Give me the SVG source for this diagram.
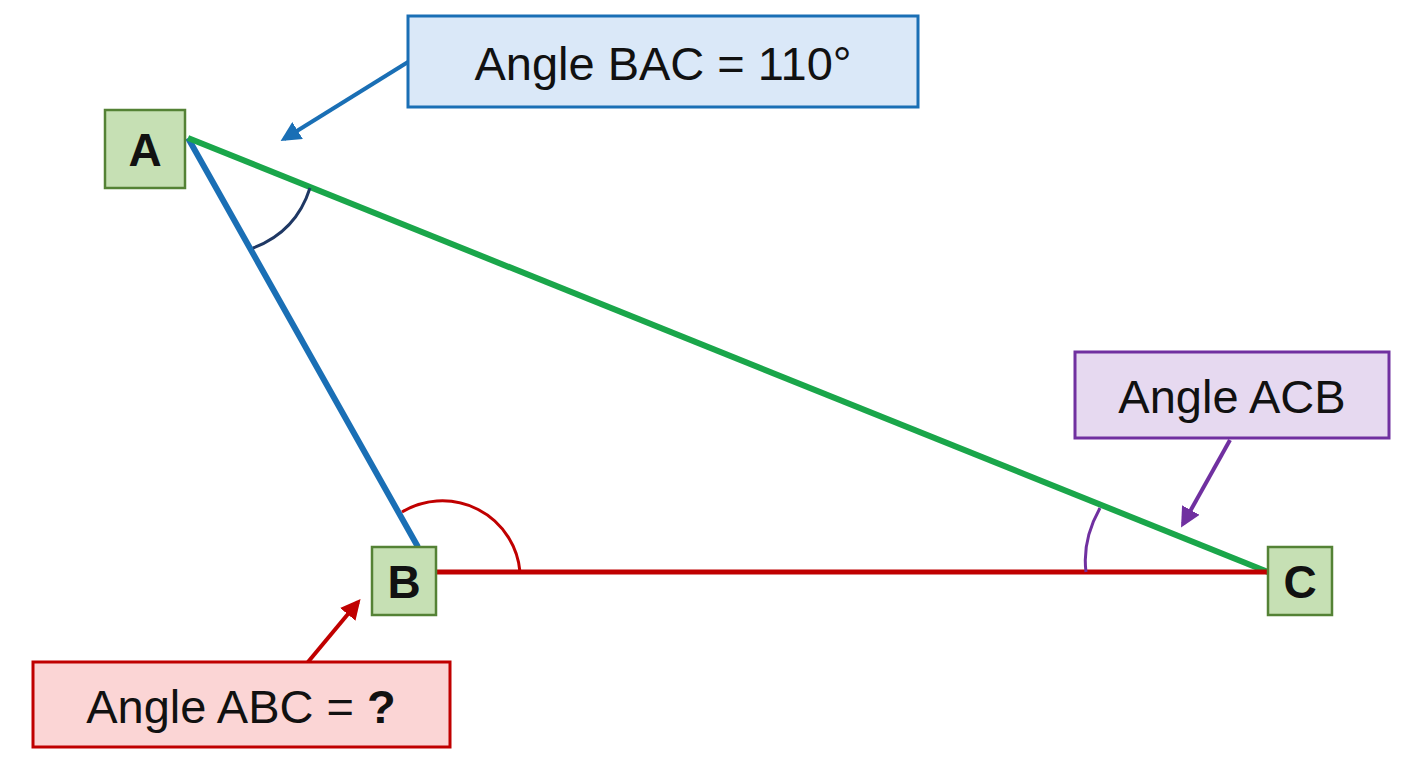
<svg xmlns="http://www.w3.org/2000/svg" width="1408" height="768" viewBox="0 0 1408 768">
<style>
.node rect{fill:#c6e0b4;stroke:#548235;stroke-width:2.5}
.node text{font-family:"Liberation Sans",Arial,sans-serif;font-weight:bold;font-size:46px;text-anchor:middle;fill:#111}
.lbl text{font-family:"Liberation Sans",Arial,sans-serif;font-size:47px;text-anchor:middle;fill:#111}
</style>
<defs>
<marker id="mb" viewBox="0 0 10 10" refX="8" refY="5" markerWidth="5" markerHeight="5" orient="auto"><path d="M0,0L10,5L0,10z" fill="#1a6fb5"/></marker>
<marker id="mp" viewBox="0 0 10 10" refX="8" refY="5" markerWidth="5" markerHeight="5" orient="auto"><path d="M0,0L10,5L0,10z" fill="#7030a0"/></marker>
<marker id="mr" viewBox="0 0 10 10" refX="8" refY="5" markerWidth="5" markerHeight="5" orient="auto"><path d="M0,0L10,5L0,10z" fill="#c00000"/></marker>
</defs>
<rect width="1408" height="768" fill="#fff"/>
<g id="connectors" fill="none">
<line x1="188" y1="138" x2="418" y2="547" stroke="#1a6fb5" stroke-width="6"/>
<line x1="188" y1="138" x2="1268" y2="572" stroke="#1aa64a" stroke-width="6"/>
<line x1="436" y1="572" x2="1268" y2="572" stroke="#c00000" stroke-width="5"/>
<path d="M253 248 Q296 232 310 188" stroke="#1f3864" stroke-width="3"/>
<path d="M402 512 A78 78 0 0 1 520 572" stroke="#c00000" stroke-width="3"/>
<path d="M1100 508 Q1082 540 1086 572" stroke="#7030a0" stroke-width="3"/>
<line x1="408" y1="62" x2="284" y2="139" stroke="#1a6fb5" stroke-width="4" marker-end="url(#mb)"/>
<line x1="1230" y1="440" x2="1183" y2="524" stroke="#7030a0" stroke-width="4" marker-end="url(#mp)"/>
<line x1="308" y1="662" x2="358" y2="602" stroke="#c00000" stroke-width="4" marker-end="url(#mr)"/>
</g>
<g id="nodeA" class="node"><rect x="105" y="110" width="80" height="78"/><text x="145" y="166">A</text></g>
<g id="nodeB" class="node"><rect x="372" y="547" width="64" height="68"/><text x="404" y="598">B</text></g>
<g id="nodeC" class="node"><rect x="1268" y="547" width="64" height="68"/><text x="1300" y="598">C</text></g>
<g id="labelBAC" class="lbl"><rect x="408" y="16" width="510" height="91" fill="#dae8f8" stroke="#1a6fb5" stroke-width="3"/><text x="663" y="80">Angle BAC = 110°</text></g>
<g id="labelACB" class="lbl"><rect x="1075" y="352" width="314" height="86" fill="#e6d9f0" stroke="#7030a0" stroke-width="3"/><text x="1232" y="413">Angle ACB</text></g>
<g id="labelABC" class="lbl"><rect x="33" y="662" width="417" height="85" fill="#fbd5d5" stroke="#c00000" stroke-width="3"/><text x="241" y="723">Angle ABC = <tspan font-weight="bold">?</tspan></text></g>
</svg>
